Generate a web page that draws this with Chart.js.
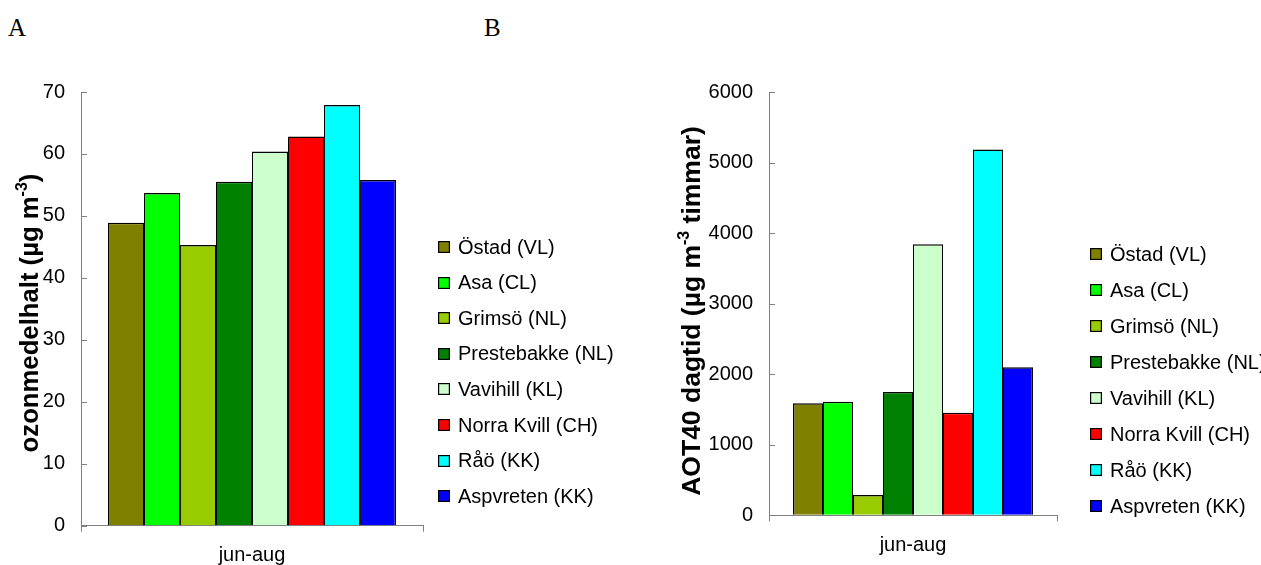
<!DOCTYPE html>
<html>
<head>
<meta charset="utf-8">
<script src="https://cdn.jsdelivr.net/npm/chart.js@4.4.1/dist/chart.umd.min.js"></script>
<style>
  html, body { margin: 0; padding: 0; background: #fff; }
  #wrap { position: relative; width: 1261px; height: 565px; overflow: hidden; }
  canvas { position: absolute; top: 0; }
  #chartA { left: 0; }
  #chartB { left: 630px; }
  .panel {
    position: absolute; top: 15px;
    font-family: "Liberation Serif", "Times New Roman", serif;
    font-size: 25px; line-height: 1; color: #000;
  }
</style>
</head>
<body>
<div id="wrap">
  <div class="panel" style="left:8px">A</div>
  <div class="panel" style="left:484px">B</div>
  <canvas id="chartA" width="630" height="565"></canvas>
  <canvas id="chartB" width="631" height="565"></canvas>
</div>
<script>
// ---- data -------------------------------------------------------------
const categories = ['jun-aug'];
const stations = ['Östad (VL)', 'Asa (CL)', 'Grimsö (NL)', 'Prestebakke (NL)',
                  'Vavihill (KL)', 'Norra Kvill (CH)', 'Råö (KK)', 'Aspvreten (KK)'];
// mean ozone concentration, µg/m3
const ozoneMean = [48.9, 53.7, 45.3, 55.5, 60.4, 62.8, 67.9, 55.8];
// daytime AOT40, µg/m3 hours
const aot40 = [1590, 1612, 288, 1750, 3845, 1456, 5187, 2100];
const ozoneTicks = [0, 10, 20, 30, 40, 50, 60, 70];
const aotTicks = [0, 1000, 2000, 3000, 4000, 5000, 6000];
// axis titles: [text, superscript?]
const ozoneTitle = [['ozonmedelhalt (µg m', false], ['-3', true], [')', false]];
const aotTitle = [['AOT40 dagtid (µg m', false], ['-3', true], [' timmar)', false]];

// ---- style ------------------------------------------------------------
const stationColors = ['#808000', '#00FF00', '#99CC00', '#008000',
                       '#CCFFCC', '#FF0000', '#00FFFF', '#0000FF'];
const FONT = '"Liberation Sans", Arial, Helvetica, sans-serif';
const AXIS_GREY = '#808080';

// Short tick marks pointing into the plot from the value axis
const innerTicks = {
  id: 'innerTicks',
  afterDatasetsDraw(chart, args, opts) {
    const ys = chart.scales.y, area = chart.chartArea, ctx = chart.ctx;
    ctx.save();
    ctx.strokeStyle = opts.color;
    ctx.lineWidth = 1;
    ys.ticks.forEach((t, i) => {
      const py = Math.round(ys.getPixelForTick(i)) + 0.5;
      const px = Math.round(area.left);
      ctx.beginPath();
      ctx.moveTo(px, py);
      ctx.lineTo(px + opts.length, py);
      ctx.stroke();
    });
    ctx.restore();
  }
};

// Rotated value-axis title with a superscript exponent
const supTitle = {
  id: 'supTitle',
  afterDraw(chart, args, opts) {
    const ctx = chart.ctx;
    const base = `bold ${opts.size}px ${FONT}`;
    const small = `bold ${Math.round(opts.size * 0.62)}px ${FONT}`;
    ctx.save();
    ctx.translate(opts.x, opts.y);
    ctx.rotate(-Math.PI / 2);
    ctx.fillStyle = '#000';
    ctx.textBaseline = 'alphabetic';
    ctx.textAlign = 'left';
    let total = 0;
    opts.parts.forEach(([t, sup]) => { ctx.font = sup ? small : base; total += ctx.measureText(t).width; });
    let x = -total / 2;
    opts.parts.forEach(([t, sup]) => {
      ctx.font = sup ? small : base;
      ctx.fillText(t, x, sup ? -opts.size * 0.42 : 0);
      x += ctx.measureText(t).width;
    });
    ctx.restore();
  }
};

// Column legend to the right of the plot
const sideLegend = {
  id: 'sideLegend',
  afterDraw(chart, args, opts) {
    const ctx = chart.ctx;
    ctx.save();
    ctx.font = `${opts.fontSize}px ${FONT}`;
    ctx.textBaseline = 'middle';
    ctx.textAlign = 'left';
    chart.data.datasets.forEach((ds, i) => {
      const cy = opts.top + i * opts.step;
      const bx = opts.left, by = Math.round(cy - opts.box / 2);
      ctx.fillStyle = ds.backgroundColor;
      ctx.fillRect(bx, by, opts.box, opts.box);
      ctx.strokeStyle = '#000';
      ctx.lineWidth = 1.2;
      ctx.strokeRect(bx + 0.6, by + 0.6, opts.box - 1.2, opts.box - 1.2);
      ctx.fillStyle = '#000';
      ctx.fillText(ds.label, bx + opts.textGap, cy + 1);
    });
    ctx.restore();
  }
};

function makeChart(id, values, ticks, cfg) {
  const last = stations.length - 1;
  const datasets = stations.map((name, i) => ({
    label: name,
    data: [values[i]],
    backgroundColor: stationColors[i],
    borderColor: '#000',
    borderWidth: { top: 1.5, bottom: 0, left: i === 0 ? 1.5 : 1, right: i === last ? 1.5 : 1 },
    borderSkipped: false,
    categoryPercentage: cfg.catPct,
    barPercentage: 1
  }));
  return new Chart(document.getElementById(id), {
    type: 'bar',
    data: { labels: categories, datasets },
    plugins: [innerTicks, supTitle, sideLegend],
    options: {
      responsive: false,
      animation: false,
      devicePixelRatio: 1,
      layout: { padding: { top: cfg.top, right: cfg.right, bottom: 0, left: 0 } },
      plugins: {
        legend: { display: false },
        tooltip: { enabled: false },
        innerTicks: { color: AXIS_GREY, length: 6 },
        supTitle: { parts: cfg.title, size: cfg.titleSize, x: cfg.titleX, y: cfg.titleY },
        sideLegend: { left: cfg.legLeft, top: cfg.legTop, step: cfg.legStep, box: 12, textGap: 20, fontSize: 20 }
      },
      scales: {
        x: {
          grid: { display: true, offset: true, drawOnChartArea: false, drawTicks: true, tickLength: 6, color: AXIS_GREY },
          border: { display: true, color: AXIS_GREY, width: 1 },
          ticks: { color: '#000', font: { family: FONT, size: 20 }, padding: 12, maxRotation: 0 },
          afterFit: s => { s.height = cfg.xHeight; }
        },
        y: {
          min: 0,
          max: ticks[ticks.length - 1],
          afterBuildTicks: s => { s.ticks = ticks.map(v => ({ value: v })); },
          grid: { display: true, drawOnChartArea: false, drawTicks: false },
          border: { display: true, color: AXIS_GREY, width: 1 },
          ticks: { color: '#000', font: { family: FONT, size: 20 }, padding: 16, callback: v => String(v) },
          afterFit: s => { s.width = cfg.yWidth; }
        }
      }
    }
  });
}

makeChart('chartA', ozoneMean, ozoneTicks, {
  catPct: 288 / 342, top: 92, right: 207, xHeight: 39.3, yWidth: 81,
  title: ozoneTitle, titleSize: 25.7, titleX: 38, titleY: 313,
  legLeft: 438, legTop: 247, legStep: 35.6
});

makeChart('chartB', aot40, aotTicks, {
  catPct: 240 / 288, top: 92.3, right: 204, xHeight: 49.7, yWidth: 139,
  title: aotTitle, titleSize: 26.5, titleX: 70, titleY: 311,
  legLeft: 460, legTop: 254, legStep: 36
});
</script>
</body>
</html>
